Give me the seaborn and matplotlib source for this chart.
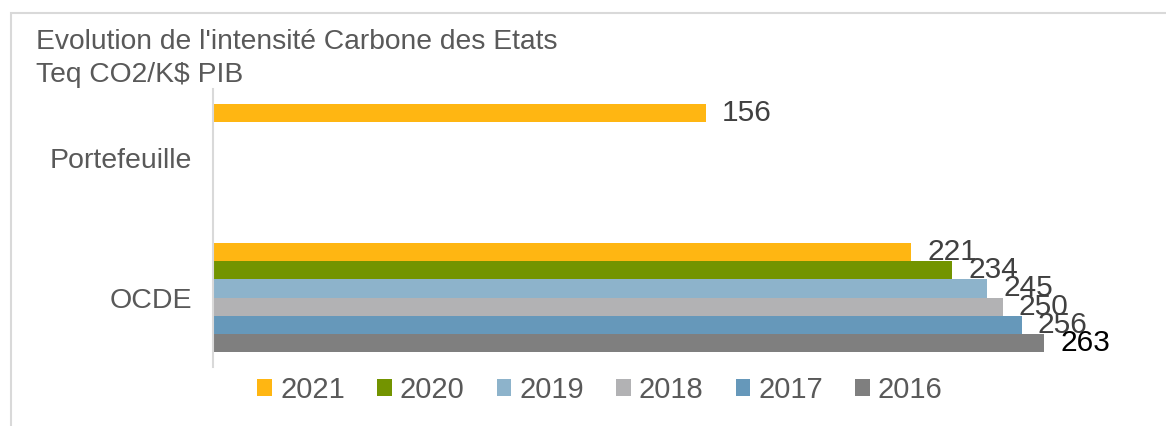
import matplotlib
matplotlib.use("Agg")
import matplotlib.pyplot as plt
from matplotlib.patches import Rectangle
import seaborn as sns
import pandas as pd

# Carbon intensity of states (t CO2-eq per k$ of GDP)
categories = ["Portefeuille", "OCDE"]
years = ["2021", "2020", "2019", "2018", "2017", "2016"]
portefeuille_values = [156]            # only 2021 is available for the portfolio
ocde_values = [221, 234, 245, 250, 256, 263]
colors = ["#FFB612", "#739400", "#8DB3CB", "#B2B2B4", "#6698BA", "#7F7F7F"]

title_lines = ["Evolution de l'intensité Carbone des Etats", "Teq CO2/K$ PIB"]

rows = [("Portefeuille", years[0], portefeuille_values[0])]
rows += [("OCDE", y, v) for y, v in zip(years, ocde_values)]
df = pd.DataFrame(rows, columns=["categorie", "annee", "valeur"])

sns.set_style("white")
plt.rcParams["font.family"] = ["Liberation Sans", "DejaVu Sans"]

W, H = 1166, 426
fig = plt.figure(figsize=(W / 100, H / 100), dpi=100)
ax = fig.add_axes([213 / W, 1 - 367 / H, (1130 - 213) / W, (367 - 89) / H])

sns.barplot(
    data=df, y="categorie", x="valeur", hue="annee",
    order=categories, hue_order=years, palette=colors,
    orient="h", width=0.78, linewidth=0, saturation=1,
    errorbar=None, ax=ax, legend=True,
)

handles, labels = ax.get_legend_handles_labels()
ax.get_legend().remove()

ax.set_xlim(0, (1130 - 213) / 3.16)
ax.set_xlabel("")
ax.set_ylabel("")
ax.set_xticks([])
for side in ("top", "right", "bottom"):
    ax.spines[side].set_visible(False)
ax.spines["left"].set_color("#D9D9D9")
ax.spines["left"].set_linewidth(1.5)
ax.tick_params(axis="y", length=0, pad=15, labelsize=20.5, labelcolor="#595959")

# value labels at the end of each bar
for cont in ax.containers:
    vals = [v for v in cont.datavalues]
    labs = [f"{v:.0f}" for v in vals]
    txts = ax.bar_label(cont, labels=labs, padding=11.5, fontsize=21.5, color="#404040")
    for t, v in zip(txts, vals):
        if v == max(ocde_values):
            t.set_color("black")

fig.legend(
    handles, labels, ncol=6, loc="center",
    bbox_to_anchor=(600 / W, 1 - 390 / H), frameon=False,
    fontsize=21, labelcolor="#595959",
    handlelength=0.51, handleheight=0.51, handletextpad=0.27, columnspacing=1.1,
)

fig.text(36 / W, 1 - 49 / H, title_lines[0], fontsize=20.3, color="#595959", va="baseline")
fig.text(36 / W, 1 - 82 / H, title_lines[1], fontsize=20.3, color="#595959", va="baseline")

# light frame around the chart area
fig.patches.append(Rectangle((11 / W, -0.1), 1.2, 1 - 13 / H + 0.1,
                             transform=fig.transFigure, fill=False,
                             edgecolor="#D9D9D9", linewidth=1.5))

fig.savefig("out.png", dpi=100)
